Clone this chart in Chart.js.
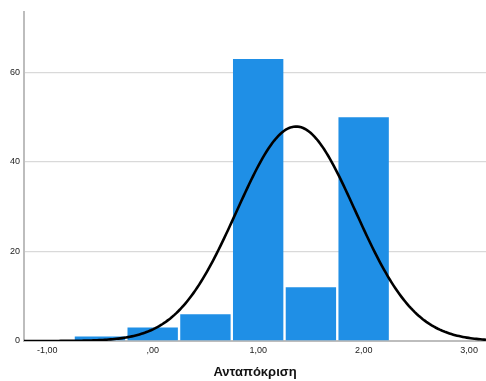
<!DOCTYPE html>
<html>
<head>
<meta charset="utf-8">
<script src="https://cdn.jsdelivr.net/npm/chart.js@4.4.1/dist/chart.umd.min.js"></script>
<style>
  html, body { margin: 0; padding: 0; background: #ffffff; }
  #wrap { width: 486px; height: 381px; position: relative; }
</style>
</head>
<body>
<div id="wrap"><canvas id="hist"></canvas></div>
<script>
// Histogram bins (centre of each bin) and frequencies
const binCenters = [-0.5, 0.0, 0.5, 1.0, 1.5, 2.0];
const frequencies = [1, 3, 6, 63, 12, 50];
const binWidth = 0.5;

// Axis ticks and their labels (comma decimal separator)
const xTickValues = [-1, 0, 1, 2, 3];
const xTickLabels = ['-1,00', ',00', '1,00', '2,00', '3,00'];
const yTickValues = [0, 20, 40, 60];
const yTickLabels = ['0', '20', '40', '60'];
const xAxisTitle = 'Ανταπόκριση';

// Fitted normal curve: mean and SD of the binned data, scaled to counts
const total = frequencies.reduce((a, b) => a + b, 0);
const mean = binCenters.reduce((s, c, i) => s + c * frequencies[i], 0) / total;
const variance = binCenters.reduce((s, c, i) => s + frequencies[i] * (c - mean) ** 2, 0) / (total - 1);
const sd = Math.sqrt(variance);

const X_MIN = -1.22, X_MAX = 3.16;
const curvePoints = [];
for (let i = 0; i <= 240; i++) {
  const x = X_MIN + (X_MAX - X_MIN) * i / 240;
  const y = total * binWidth * Math.exp(-0.5 * ((x - mean) / sd) ** 2) / (sd * Math.sqrt(2 * Math.PI));
  curvePoints.push({ x, y });
}

const barPoints = binCenters.map((c, i) => ({ x: c, y: frequencies[i] }));

new Chart(document.getElementById('hist'), {
  type: 'bar',
  data: {
    datasets: [
      {
        type: 'line',
        data: curvePoints,
        borderColor: '#000000',
        borderWidth: 2.6,
        pointRadius: 0,
        tension: 0,
        fill: false,
        order: 0
      },
      {
        type: 'bar',
        data: barPoints,
        backgroundColor: '#1f8fe6',
        borderWidth: 0,
        barPercentage: 0.955,
        categoryPercentage: 1,
        order: 1
      }
    ]
  },
  options: {
    responsive: true,
    maintainAspectRatio: false,
    animation: false,
    events: [],
    layout: { padding: { top: 12, right: 0, bottom: 0, left: 0 } },
    plugins: { legend: { display: false }, tooltip: { enabled: false } },
    scales: {
      x: {
        type: 'linear',
        min: X_MIN,
        max: X_MAX,
        offset: false,
        grid: { display: false, drawTicks: false, offset: false },
        border: { display: true, color: '#bdbdbd', width: 2 },
        ticks: {
          padding: 4,
          color: '#222222',
          font: { family: 'Liberation Sans, Arial, sans-serif', size: 9 },
          maxRotation: 0,
          autoSkip: false,
          callback: (v) => {
            const i = xTickValues.indexOf(v);
            return i >= 0 ? xTickLabels[i] : '';
          }
        },
        afterBuildTicks: (scale) => { scale.ticks = xTickValues.map(v => ({ value: v })); },
        afterFit: (scale) => { scale.height = 40; },
        title: {
          display: true,
          text: xAxisTitle,
          color: '#111111',
          font: { family: 'Liberation Sans, Arial, sans-serif', size: 13, weight: 'bold' },
          padding: { top: 0, bottom: 1 }
        }
      },
      y: {
        min: 0,
        max: 73.5,
        grid: { color: '#d9d9d9', lineWidth: 1.3, drawTicks: false },
        border: { display: true, color: '#bdbdbd', width: 2 },
        ticks: {
          padding: 4,
          color: '#222222',
          font: { family: 'Liberation Sans, Arial, sans-serif', size: 9 },
          callback: (v) => {
            const i = yTickValues.indexOf(v);
            return i >= 0 ? yTickLabels[i] : '';
          }
        },
        afterBuildTicks: (scale) => { scale.ticks = yTickValues.map(v => ({ value: v })); },
        afterFit: (scale) => { scale.width = 24; }
      }
    }
  }
});
</script>
</body>
</html>
